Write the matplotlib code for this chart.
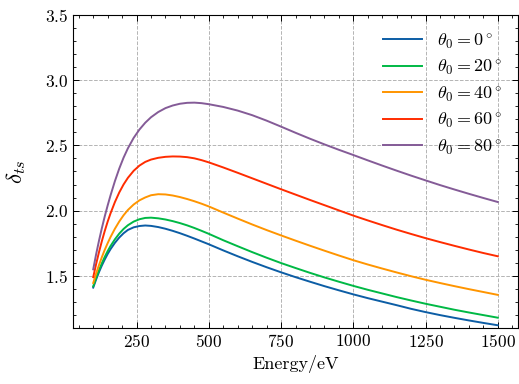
import matplotlib
matplotlib.use("Agg")
import matplotlib.pyplot as plt
from matplotlib.ticker import MultipleLocator

plt.rcParams.update({
    "font.family": "serif",
    "font.serif": ["cmr10"],
    "mathtext.fontset": "cm",
    "axes.formatter.use_mathtext": True,
    "axes.unicode_minus": False,
})

energy = [100, 110, 120, 130, 140, 150, 160, 175, 190, 205, 220, 240, 260, 280, 300,
          325, 350, 375, 400, 425, 450, 475, 500,
          550, 600, 650, 700, 750, 800, 850, 900, 950, 1000,
          1050, 1100, 1150, 1200, 1250, 1300, 1350, 1400, 1450, 1500]

delta_0 = [1.41, 1.472, 1.529, 1.58, 1.626, 1.668, 1.705, 1.753, 1.7935, 1.8265, 1.852,
           1.872, 1.882, 1.886, 1.883, 1.874, 1.861, 1.845, 1.827, 1.807, 1.786, 1.764, 1.742,
           1.695, 1.650, 1.607, 1.566, 1.527, 1.490, 1.455, 1.421, 1.389, 1.358,
           1.329, 1.302, 1.275, 1.247, 1.222, 1.199, 1.178, 1.158, 1.139, 1.121]
delta_20 = [1.42, 1.484, 1.543, 1.597, 1.646, 1.69, 1.729, 1.78, 1.8235, 1.8595, 1.888,
            1.916, 1.934, 1.944, 1.946, 1.941, 1.932, 1.9195, 1.9045, 1.887, 1.867, 1.845, 1.822,
            1.773, 1.727, 1.682, 1.639, 1.598, 1.560, 1.523, 1.488, 1.455, 1.423,
            1.393, 1.365, 1.337, 1.311, 1.286, 1.263, 1.240, 1.219, 1.199, 1.179]
delta_40 = [1.445, 1.517, 1.583, 1.644, 1.70, 1.751, 1.798, 1.861, 1.9165, 1.9645, 2.005,
            2.047, 2.079, 2.101, 2.118, 2.126, 2.124, 2.116, 2.104, 2.089, 2.072, 2.053, 2.032,
            1.985, 1.939, 1.894, 1.851, 1.810, 1.770, 1.731, 1.693, 1.656, 1.620,
            1.587, 1.556, 1.526, 1.497, 1.470, 1.445, 1.421, 1.398, 1.376, 1.354]
delta_60 = [1.49, 1.59, 1.682, 1.767, 1.845, 1.916, 1.98, 2.0655, 2.139, 2.2005, 2.2515,
            2.3055, 2.3455, 2.3735, 2.3915, 2.405, 2.4125, 2.4155, 2.4145, 2.41, 2.401, 2.387, 2.370,
            2.331, 2.290, 2.248, 2.206, 2.164, 2.123, 2.082, 2.042, 2.002, 1.962,
            1.925, 1.889, 1.854, 1.821, 1.789, 1.759, 1.730, 1.702, 1.675, 1.650]
delta_80 = [1.55, 1.665, 1.77, 1.867, 1.957, 2.04, 2.118, 2.226, 2.322, 2.406, 2.478,
            2.558, 2.622, 2.674, 2.716, 2.756, 2.786, 2.806, 2.8195, 2.8265, 2.828, 2.824, 2.816,
            2.795, 2.767, 2.732, 2.690, 2.644, 2.597, 2.5515, 2.508, 2.4665, 2.4265,
            2.3855, 2.3455, 2.3065, 2.2685, 2.232, 2.196, 2.162, 2.129, 2.097, 2.066]

series = [delta_0, delta_20, delta_40, delta_60, delta_80]
angles = [0, 20, 40, 60, 80]
colors = ["#0C5DA5", "#00B945", "#FF9500", "#FF2C00", "#845B97"]

fig = plt.figure(figsize=(5.19, 3.84), dpi=100)
ax = fig.add_axes([73/519, 1-328/384, (518-73)/519, (328-15)/384])

for vals, ang, c in zip(series, angles, colors):
    ax.plot(energy, vals, color=c, lw=1.4, solid_joinstyle="round",
            label=r"$\theta_0=%d^\circ$" % ang)

ax.set_xlim(30, 1570)
ax.set_ylim(1.1, 3.5)
ax.xaxis.set_major_locator(MultipleLocator(250))
ax.xaxis.set_minor_locator(MultipleLocator(50))
ax.yaxis.set_major_locator(MultipleLocator(0.5))
ax.yaxis.set_minor_locator(MultipleLocator(0.1))
ax.set_xticks([250, 500, 750, 1000, 1250, 1500])
ax.tick_params(which="both", direction="in", top=True, right=True, labelsize=12.5)
ax.tick_params(which="major", length=4.5, width=0.7)
ax.tick_params(which="minor", length=2.3, width=0.6)
for s in ax.spines.values():
    s.set_linewidth(0.8)
ax.grid(True, which="major", linestyle="--", color="#b4b4b4", linewidth=0.7)

ax.set_xlabel("Energy/eV", fontsize=13)
ax.set_ylabel(r"$\delta_{ts}$", fontsize=16.5)
ax.yaxis.set_label_coords(-0.10, 0.5)

ax.legend(loc="upper right", frameon=False, fontsize=13, handlelength=2.2,
          handletextpad=0.8, labelspacing=0.38)

fig.savefig("out.png", dpi=100)
